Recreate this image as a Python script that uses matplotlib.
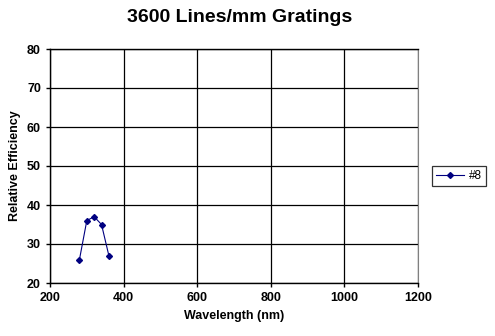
import matplotlib
matplotlib.use('Agg')
from matplotlib import pyplot as plt

wavelength = [280, 300, 320, 340, 360]
efficiency = [26, 36, 37, 35, 27]
series_name = '#8'

plt.rcParams['font.family'] = ['Liberation Sans', 'DejaVu Sans']

fig = plt.figure(figsize=(4.95, 3.36), dpi=100)
ax = fig.add_axes([50/495, 1 - 283/336, 368/495, 234/336])

ax.plot(wavelength, efficiency, color='#000080', lw=0.8, marker='D', ms=3,
        label=series_name)

ax.set_xlim(200, 1200)
ax.set_ylim(20, 80)
ax.set_xticks(range(200, 1201, 200))
ax.set_yticks(range(20, 81, 10))
ax.grid(True, color='black', lw=0.9)
ax.set_axisbelow(True)
for s in ['left', 'bottom', 'top']:
    ax.spines[s].set_color('black')
    ax.spines[s].set_linewidth(1)
ax.spines['right'].set_color('#808080')
ax.tick_params(direction='out', length=3, width=1, labelsize=9)
for lbl in ax.get_xticklabels() + ax.get_yticklabels():
    lbl.set_fontweight('bold')

ax.set_xlabel('Wavelength (nm)', fontsize=9, fontweight='bold', labelpad=4)
ax.set_ylabel('Relative Efficiency', fontsize=9, fontweight='bold', labelpad=4)
fig.text(240/495, 1 - 17/336, '3600 Lines/mm Gratings',
         ha='center', va='center', fontsize=14, fontweight='bold')

leg = fig.legend(loc='center', bbox_to_anchor=(459/495, 1 - 176/336),
                 fontsize=8.5, frameon=True, fancybox=False, handlelength=2.4,
                 borderpad=0.3, handletextpad=0.4)
leg.get_frame().set_edgecolor('black')
leg.get_frame().set_linewidth(0.9)

fig.savefig('out.png', dpi=100)
